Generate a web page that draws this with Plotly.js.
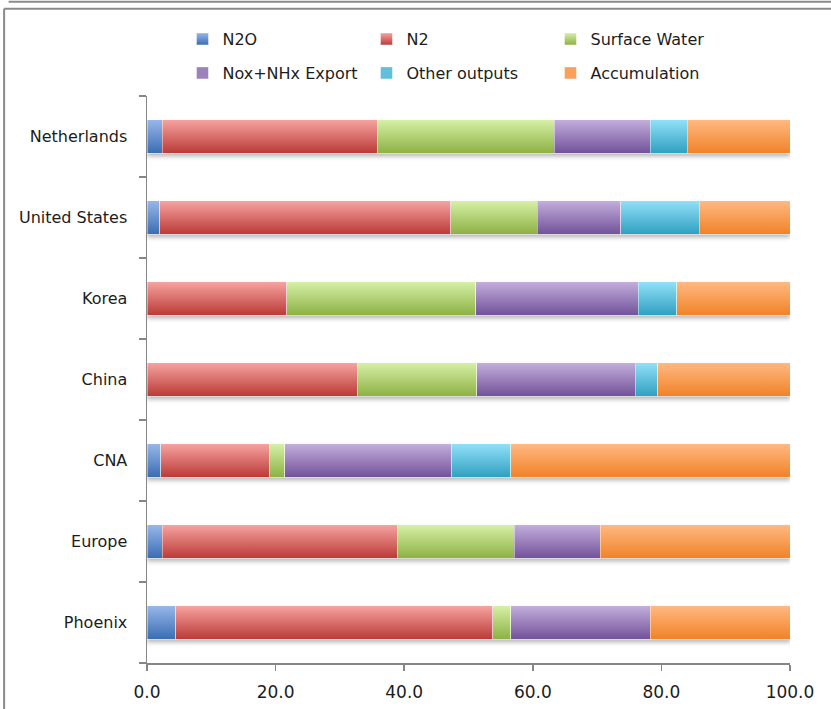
<!DOCTYPE html>
<html>
<head>
<meta charset="utf-8">
<script src="https://cdn.plot.ly/plotly-3.0.1.min.js"></script>
<style>
  html, body { margin: 0; padding: 0; background: #ffffff; }
  #chart { width: 831px; height: 709px; }
  #chart .barlayer { filter: drop-shadow(0px 3px 2px rgba(0, 0, 0, 0.28)); }
</style>
</head>
<body>
<div id="chart"></div>
<script>
// Nitrogen output shares (%) per region, bottom row first
const categories = ['Phoenix', 'Europe', 'CNA', 'China', 'Korea', 'United States', 'Netherlands'];
const n2o          = [4.5,  2.4,  2.1,  0.0,  0.0,  2.0,  2.4];
const n2           = [49.3, 36.6, 17.0, 32.8, 21.7, 45.2, 33.5];
const surfaceWater = [2.8,  18.1, 2.3,  18.5, 29.4, 13.5, 27.4];
const noxNhxExport = [21.7, 13.4, 26.0, 24.6, 25.3, 13.0, 15.0];
const otherOutputs = [0.0,  0.0,  9.2,  3.5,  6.0,  12.2, 5.7];
const accumulation = [21.7, 29.5, 43.4, 20.6, 17.6, 14.1, 16.0];

const seriesNames = ['N2O', 'N2', 'Surface Water', 'Nox+NHx Export', 'Other outputs', 'Accumulation'];
const tickValues = [0, 20, 40, 60, 80, 100];

// fill colour per series plus light-top / dark-bottom gradient stops
const palette = [
  { mid: '#5B8BCC', top: '#98B7EA', bottom: '#3A6DB3' },
  { mid: '#D96563', top: '#F6A3A1', bottom: '#BB3A36' },
  { mid: '#B2D27A', top: '#D6F0A6', bottom: '#8DB143' },
  { mid: '#9B82BD', top: '#C3AEDC', bottom: '#72529A' },
  { mid: '#60BFDB', top: '#92E0F8', bottom: '#2FA0C1' },
  { mid: '#F9A15A', top: '#FFB982', bottom: '#F18228' }
];

const values = [n2o, n2, surfaceWater, noxNhxExport, otherOutputs, accumulation];

const traces = values.map((vals, i) => ({
  type: 'bar',
  orientation: 'h',
  name: seriesNames[i],
  x: vals,
  y: categories,
  legend: i < 3 ? 'legend' : 'legend2',
  marker: {
    color: palette[i].mid,
    line: { color: 'rgba(255,255,255,0.55)', width: 0.8 }
  },
  hoverinfo: 'skip'
}));

// plot area in pixels
const W = 831, H = 709;
const L = 146.5, R = 790, T = 96, B = 663;
const px = x => (x - L) / (R - L);
const py = y => (B - y) / (B - T);

const fontFamily = '"DejaVu Sans", "Liberation Sans", sans-serif';
const textColor = '#1c1c1c';
const axisColor = '#868686';

const layout = {
  width: W,
  height: H,
  margin: { l: L, r: W - R, t: T, b: H - B, pad: 0 },
  paper_bgcolor: '#ffffff',
  plot_bgcolor: '#ffffff',
  font: { family: fontFamily, size: 16, color: textColor },
  barmode: 'stack',
  bargap: 0.59,
  showlegend: true,
  xaxis: {
    range: [0, 100],
    tickvals: tickValues,
    tickformat: '.1f',
    ticks: 'outside',
    ticklen: 6,
    tickwidth: 1.5,
    tickcolor: axisColor,
    showline: true,
    linecolor: axisColor,
    linewidth: 1.5,
    showgrid: false,
    zeroline: false,
    ticklabelstandoff: 7,
    tickfont: { family: fontFamily, size: 17, color: textColor },
    fixedrange: true
  },
  yaxis: {
    type: 'category',
    categoryorder: 'array',
    categoryarray: categories,
    ticks: 'outside',
    tickson: 'boundaries',
    ticklen: 7,
    tickwidth: 1.5,
    tickcolor: axisColor,
    showline: true,
    linecolor: axisColor,
    linewidth: 1.5,
    showgrid: false,
    zeroline: false,
    ticklabelstandoff: 15,
    tickfont: { family: fontFamily, size: 16, color: textColor },
    fixedrange: true
  },
  legend: {
    orientation: 'h',
    x: px(182), xanchor: 'left',
    y: py(39), yanchor: 'middle',
    entrywidth: 139,
    font: { family: fontFamily, size: 16, color: textColor },
    bgcolor: 'rgba(0,0,0,0)',
    traceorder: 'normal'
  },
  legend2: {
    orientation: 'h',
    x: px(182), xanchor: 'left',
    y: py(73), yanchor: 'middle',
    entrywidth: 139,
    font: { family: fontFamily, size: 16, color: textColor },
    bgcolor: 'rgba(0,0,0,0)',
    traceorder: 'normal'
  },
  shapes: [
    // frame lines around the chart
    { type: 'line', xref: 'paper', yref: 'paper', x0: px(8), x1: px(835), y0: py(1.7), y1: py(1.7),
      line: { color: '#8a8a8a', width: 2 } },
    { type: 'line', xref: 'paper', yref: 'paper', x0: px(3.5), x1: px(835), y0: py(8.7), y1: py(8.7),
      line: { color: '#8a8a8a', width: 2 } },
    { type: 'line', xref: 'paper', yref: 'paper', x0: px(3.5), x1: px(3.5), y0: py(8.7), y1: py(715),
      line: { color: '#8a8a8a', width: 2 } }
  ]
};

// apply vertical gradients to bars and legend swatches
function applyGradients(gd) {
  const svg = gd.querySelector('svg.main-svg');
  if (!svg) return;
  const ns = 'http://www.w3.org/2000/svg';
  let defs = svg.querySelector('defs');
  if (!defs) { defs = document.createElementNS(ns, 'defs'); svg.insertBefore(defs, svg.firstChild); }
  palette.forEach((p, i) => {
    const g = document.createElementNS(ns, 'linearGradient');
    g.setAttribute('id', 'barfill' + i);
    g.setAttribute('x1', '0'); g.setAttribute('y1', '0');
    g.setAttribute('x2', '0'); g.setAttribute('y2', '1');
    [[0, p.top], [1, p.bottom]].forEach(([o, c]) => {
      const s = document.createElementNS(ns, 'stop');
      s.setAttribute('offset', String(o));
      s.setAttribute('stop-color', c);
      g.appendChild(s);
    });
    defs.appendChild(g);
  });
  gd.querySelectorAll('.barlayer .trace.bars').forEach((tr, i) => {
    tr.querySelectorAll('path').forEach(p => { p.style.fill = 'url(#barfill' + i + ')'; });
  });
  gd.querySelectorAll('.legend .traces').forEach(item => {
    const name = item.querySelector('.legendtext').textContent;
    const i = seriesNames.indexOf(name);
    if (i >= 0) item.querySelectorAll('.legendpoints path').forEach(p => { p.style.fill = 'url(#barfill' + i + ')'; });
  });
}

Plotly.newPlot('chart', traces, layout, { staticPlot: true, displayModeBar: false })
  .then(applyGradients);
</script>
</body>
</html>
